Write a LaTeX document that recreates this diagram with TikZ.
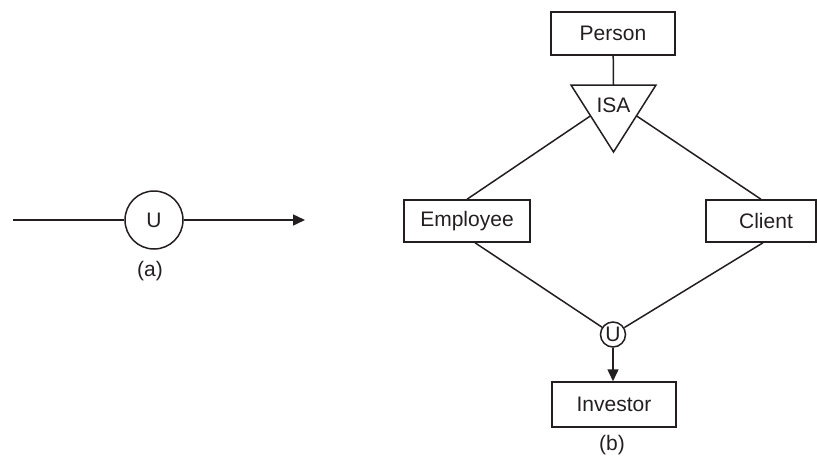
\documentclass[tikz,border=0pt]{standalone}
\usepackage{fontspec}
\setmainfont{Liberation Sans}
\usepackage{xcolor}
\usepackage{tikz}
\usetikzlibrary{calc,arrows.meta,positioning}
\definecolor{inkx}{HTML}{231F20}
\tikzset{
  ln/.style={line width=1.5pt,inkx},
  ar/.style={-{Triangle[length=12pt,width=11pt]},line width=1.5pt,inkx},
  ent/.style={draw=inkx,line width=1.5pt,minimum width=124pt,minimum height=43pt,inner sep=2pt,font=\fontsize{21}{24}\selectfont,text=inkx},
  uni/.style={draw=inkx,circle,line width=1.5pt,inner sep=0pt,font=\fontsize{21}{24}\selectfont,text=inkx},
  lbl/.style={font=\fontsize{21}{24}\selectfont,text=inkx}
}
\begin{document}
\begin{tikzpicture}[x=1pt,y=-1pt]
\useasboundingbox (0,0) rectangle (817,459);
% (a)
\coordinate (ain) at (13,220);
\coordinate (aout) at (305,220);
\node[uni,minimum size=58pt] (ua) at (154,220) {U};
\draw[ln] (ain) -- (ua);
\draw[ar] (ua) -- (aout);
\node[lbl] (capa) at (150,271) {(a)};
% (b)
\node[ent] (per) at (613,33.5) {Person};
\coordinate (isatl) at (571,85);
\coordinate (isatr) at (656,85);
\coordinate (isabot) at (613.5,152);
\coordinate (isatop) at (613.5,85);
\draw[ln,line join=miter] (isatl) -- (isatr) -- (isabot) -- cycle;
\node[lbl] (isa) at (613.5,105) {ISA};
\coordinate (isal) at ($(isatl)!0.46!(isabot)$);
\coordinate (isar) at ($(isatr)!0.46!(isabot)$);
\node[ent,minimum width=126pt,minimum height=42pt] (emp) at (467,221) {Employee};
\node[ent,minimum width=110pt,minimum height=42pt] (cli) at (761,221) {\hspace{10pt}Client};
\node[uni,minimum size=25pt] (ub) at (613,334.5) {U};
\node[ent,minimum height=45pt] (inv) at (614,404.5) {Investor};
\draw[ln] (per) -- (isatop);
\draw[ln] (emp.north) -- (isal);
\draw[ln] (cli.north) -- (isar);
\draw[ln] ([xshift=8pt]emp.south) -- (ub);
\draw[ln] ([xshift=2pt]cli.south) -- (ub);
\draw[ar] (ub) -- (ub |- inv.north);
\node[lbl] (capb) at (612,445) {(b)};
\end{tikzpicture}
\end{document}
